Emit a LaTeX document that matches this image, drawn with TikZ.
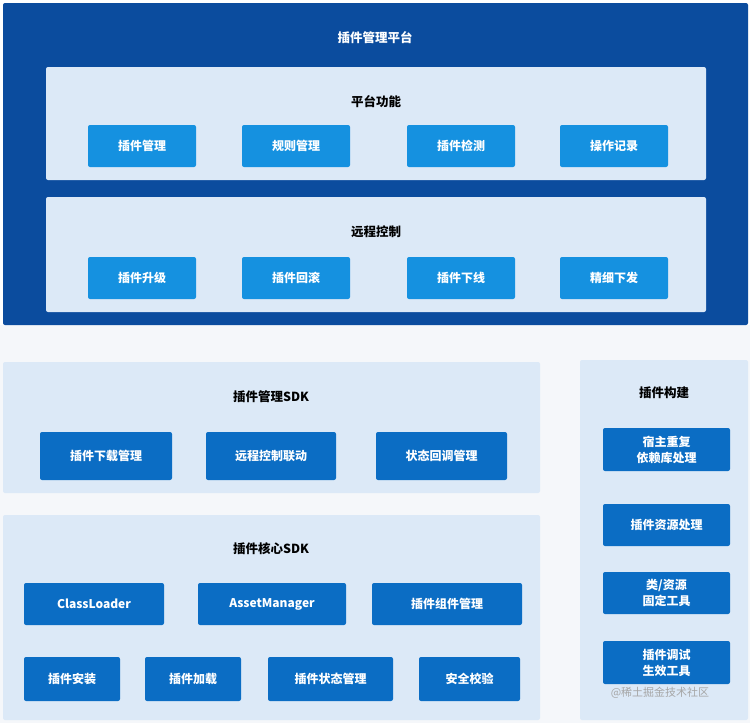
\documentclass[tikz,border=0pt]{standalone}
\usepackage{fontspec}
\setmainfont{Noto Sans CJK SC}
\definecolor{navy}{HTML}{0B4C9E}
\definecolor{panel}{HTML}{DCE9F7}
\definecolor{bright}{HTML}{1591E0}
\definecolor{mid}{HTML}{0B6DC4}
\definecolor{bg}{HTML}{F5F7FA}
\begin{document}
\begin{tikzpicture}[x=1pt,y=-1pt,
  pnl/.style={fill=panel,rounded corners=2pt},
  btn/.style={rounded corners=2pt,text=white,font=\fontsize{12}{14}\selectfont\bfseries},
  ttl/.style={font=\fontsize{12.5}{14}\selectfont\bfseries}]
\useasboundingbox (0,0) rectangle (750,723);
\fill[white] (0,0) rectangle (750,723);
\fill[bg] (0,325) rectangle (750,723);
\fill[navy,rounded corners=2pt] (3,3) rectangle (748,325);
\node[ttl,text=white] (t0) at (375,38) {插件管理平台};
\fill[pnl] (46,67) rectangle (706,180);
\node[ttl] (t1) at (376,102) {平台功能};
\fill[pnl] (46,197) rectangle (706,312);
\node[ttl] (t2) at (376,232) {远程控制};
\foreach \x/\w/\t [count=\i] in {88/196/插件管理,242/350/规则管理,407/515/插件检测,560/668/操作记录}{
  \fill[bright,rounded corners=2pt] (\x,125) rectangle (\w,167);
  \node[btn] (a\i) at ({(\x+\w)/2},146) {\t};}
\foreach \x/\w/\t [count=\i] in {88/196/插件升级,242/350/插件回滚,407/515/插件下线,560/668/精细下发}{
  \fill[bright,rounded corners=2pt] (\x,257) rectangle (\w,299);
  \node[btn] (b\i) at ({(\x+\w)/2},278) {\t};}
\fill[pnl] (3,362) rectangle (540,493);
\node[ttl] (t3) at (271,397) {插件管理SDK};
\foreach \x/\w/\t [count=\i] in {40/172/插件下载管理,206/336/远程控制联动,376/507/状态回调管理}{
  \fill[mid,rounded corners=2pt] (\x,432) rectangle (\w,480);
  \node[btn] (c\i) at ({(\x+\w)/2},456) {\t};}
\fill[pnl] (3,515) rectangle (540,720);
\node[ttl] (t4) at (271,549) {插件核心SDK};
\foreach \x/\w/\t [count=\i] in {24/164/ClassLoader,198/346/AssetManager,372/522/插件组件管理}{
  \fill[mid,rounded corners=2pt] (\x,583) rectangle (\w,625);
  \node[btn] (d\i) at ({(\x+\w)/2},604) {\t};}
\foreach \x/\w/\t [count=\i] in {24/120/插件安装,145/241/插件加载,268/393/插件状态管理,419/520/安全校验}{
  \fill[mid,rounded corners=2pt] (\x,657) rectangle (\w,701);
  \node[btn] (e\i) at ({(\x+\w)/2},679) {\t};}
\fill[pnl] (580,360) rectangle (748,720);
\node[ttl] (t5) at (664,393) {插件构建};
\foreach \y/\h/\t [count=\i] in {428/471/{宿主重复\\依赖库处理},504/546/插件资源处理,572/614/{类/资源\\固定工具},641/684/{插件调试\\生效工具}}{
  \fill[mid,rounded corners=2pt] (603,\y) rectangle (730,\h);
  \node[btn,align=center,font=\fontsize{12}{16}\selectfont\bfseries] (f\i) at (666.5,{(\y+\h)/2}) {\t};}
\node[text=gray!70,font=\fontsize{11}{13}\selectfont] (wm) at (660,693) {@稀土掘金技术社区};
\end{tikzpicture}
\end{document}
